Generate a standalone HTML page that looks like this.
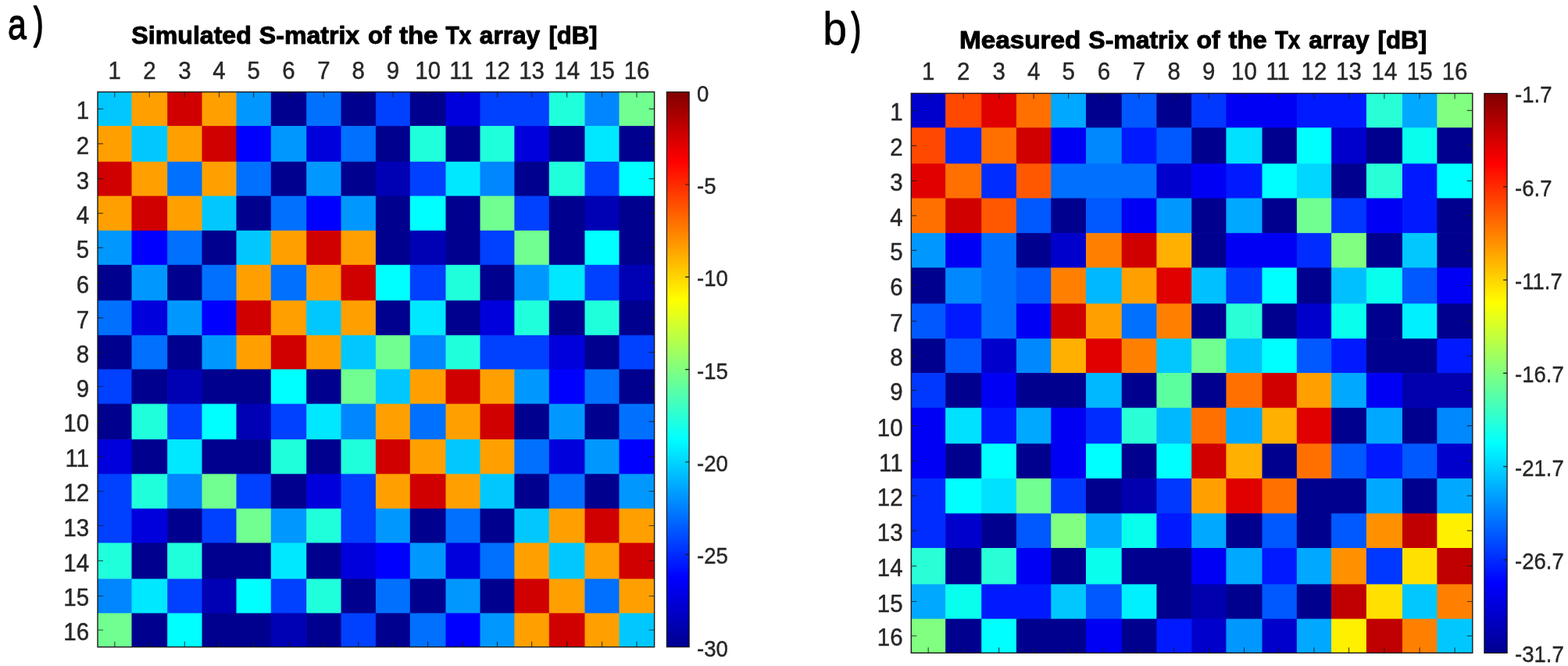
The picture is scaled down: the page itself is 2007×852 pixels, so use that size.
<!DOCTYPE html>
<html lang="en"><head><meta charset="utf-8"><title>S-matrix of the Tx array</title>
<style>html,body{margin:0;padding:0;background:#fff}body{width:2007px;height:852px;overflow:hidden}svg{display:block}</style></head>
<body>
<svg width="2007" height="852" viewBox="0 0 2007 852">
<defs><linearGradient id="jet" x1="0" y1="1" x2="0" y2="0">
<stop offset="0" stop-color="#00008F"/><stop offset="0.125" stop-color="#0000FF"/>
<stop offset="0.375" stop-color="#00FFFF"/><stop offset="0.5" stop-color="#80FF80"/><stop offset="0.625" stop-color="#FFFF00"/>
<stop offset="0.875" stop-color="#FF0000"/><stop offset="1" stop-color="#800000"/></linearGradient></defs>
<rect width="2007" height="852" fill="#fff"/>
<g>
<rect x="125" y="117.6" width="44.2" height="44.2" fill="#00C8FF"/>
<rect x="168.5" y="117.6" width="46.4" height="44.2" fill="#FFA000"/>
<rect x="214.2" y="117.6" width="45.0" height="44.2" fill="#D00000"/>
<rect x="258.5" y="117.6" width="44.7" height="44.2" fill="#FFA000"/>
<rect x="302.5" y="117.6" width="45.0" height="44.2" fill="#0098FF"/>
<rect x="346.8" y="117.6" width="46.1" height="44.2" fill="#00008F"/>
<rect x="392.2" y="117.6" width="45.0" height="44.2" fill="#0070FF"/>
<rect x="436.5" y="117.6" width="45.1" height="44.2" fill="#00008F"/>
<rect x="480.9" y="117.6" width="44.6" height="44.2" fill="#0040FF"/>
<rect x="524.8" y="117.6" width="46.4" height="44.2" fill="#00008F"/>
<rect x="570.5" y="117.6" width="44.7" height="44.2" fill="#0000DC"/>
<rect x="614.5" y="117.6" width="89.0" height="44.2" fill="#0040FF"/>
<rect x="702.8" y="117.6" width="46.4" height="44.2" fill="#20FFDC"/>
<rect x="748.5" y="117.6" width="44.7" height="44.2" fill="#0086FF"/>
<rect x="792.5" y="117.6" width="45.1" height="44.2" fill="#70FF90"/>
<rect x="125" y="161.1" width="44.2" height="46.4" fill="#FFA000"/>
<rect x="168.5" y="161.1" width="46.4" height="46.4" fill="#00C8FF"/>
<rect x="214.2" y="161.1" width="45.0" height="46.4" fill="#FFA000"/>
<rect x="258.5" y="161.1" width="44.7" height="46.4" fill="#D00000"/>
<rect x="302.5" y="161.1" width="45.0" height="46.4" fill="#0000FF"/>
<rect x="346.8" y="161.1" width="46.1" height="46.4" fill="#0098FF"/>
<rect x="392.2" y="161.1" width="45.0" height="46.4" fill="#0000DC"/>
<rect x="436.5" y="161.1" width="45.1" height="46.4" fill="#0070FF"/>
<rect x="480.9" y="161.1" width="44.6" height="46.4" fill="#00008F"/>
<rect x="524.8" y="161.1" width="46.4" height="46.4" fill="#20FFDC"/>
<rect x="570.5" y="161.1" width="44.7" height="46.4" fill="#00008F"/>
<rect x="614.5" y="161.1" width="44.6" height="46.4" fill="#20FFDC"/>
<rect x="658.4" y="161.1" width="45.1" height="46.4" fill="#0000DC"/>
<rect x="702.8" y="161.1" width="46.4" height="46.4" fill="#00008F"/>
<rect x="748.5" y="161.1" width="44.7" height="46.4" fill="#00E8FF"/>
<rect x="792.5" y="161.1" width="45.1" height="46.4" fill="#00008F"/>
<rect x="125" y="206.8" width="44.2" height="44.55" fill="#D00000"/>
<rect x="168.5" y="206.8" width="46.4" height="44.55" fill="#FFA000"/>
<rect x="214.2" y="206.8" width="45.0" height="44.55" fill="#0070FF"/>
<rect x="258.5" y="206.8" width="44.7" height="44.55" fill="#FFA000"/>
<rect x="302.5" y="206.8" width="45.0" height="44.55" fill="#0070FF"/>
<rect x="346.8" y="206.8" width="46.1" height="44.55" fill="#00008F"/>
<rect x="392.2" y="206.8" width="45.0" height="44.55" fill="#0098FF"/>
<rect x="436.5" y="206.8" width="45.1" height="44.55" fill="#00008F"/>
<rect x="480.9" y="206.8" width="44.6" height="44.55" fill="#0000B4"/>
<rect x="524.8" y="206.8" width="46.4" height="44.55" fill="#0040FF"/>
<rect x="570.5" y="206.8" width="44.7" height="44.55" fill="#00E8FF"/>
<rect x="614.5" y="206.8" width="44.6" height="44.55" fill="#0086FF"/>
<rect x="658.4" y="206.8" width="45.1" height="44.55" fill="#00008F"/>
<rect x="702.8" y="206.8" width="46.4" height="44.55" fill="#20FFDC"/>
<rect x="748.5" y="206.8" width="44.7" height="44.55" fill="#0040FF"/>
<rect x="792.5" y="206.8" width="45.1" height="44.55" fill="#00FFFF"/>
<rect x="125" y="250.65" width="44.2" height="44.95" fill="#FFA000"/>
<rect x="168.5" y="250.65" width="46.4" height="44.95" fill="#D00000"/>
<rect x="214.2" y="250.65" width="45.0" height="44.95" fill="#FFA000"/>
<rect x="258.5" y="250.65" width="44.7" height="44.95" fill="#00C8FF"/>
<rect x="302.5" y="250.65" width="45.0" height="44.95" fill="#00008F"/>
<rect x="346.8" y="250.65" width="46.1" height="44.95" fill="#0070FF"/>
<rect x="392.2" y="250.65" width="45.0" height="44.95" fill="#0000FF"/>
<rect x="436.5" y="250.65" width="45.1" height="44.95" fill="#0098FF"/>
<rect x="480.9" y="250.65" width="44.6" height="44.95" fill="#00008F"/>
<rect x="524.8" y="250.65" width="46.4" height="44.95" fill="#00FFFF"/>
<rect x="570.5" y="250.65" width="44.7" height="44.95" fill="#00008F"/>
<rect x="614.5" y="250.65" width="44.6" height="44.95" fill="#70FF90"/>
<rect x="658.4" y="250.65" width="45.1" height="44.95" fill="#0040FF"/>
<rect x="702.8" y="250.65" width="46.4" height="44.95" fill="#00008F"/>
<rect x="748.5" y="250.65" width="44.7" height="44.95" fill="#0000B4"/>
<rect x="792.5" y="250.65" width="45.1" height="44.95" fill="#00008F"/>
<rect x="125" y="294.9" width="44.2" height="44.6" fill="#0098FF"/>
<rect x="168.5" y="294.9" width="46.4" height="44.6" fill="#0000FF"/>
<rect x="214.2" y="294.9" width="45.0" height="44.6" fill="#0070FF"/>
<rect x="258.5" y="294.9" width="44.7" height="44.6" fill="#00008F"/>
<rect x="302.5" y="294.9" width="45.0" height="44.6" fill="#00C8FF"/>
<rect x="346.8" y="294.9" width="46.1" height="44.6" fill="#FFA000"/>
<rect x="392.2" y="294.9" width="45.0" height="44.6" fill="#D00000"/>
<rect x="436.5" y="294.9" width="45.1" height="44.6" fill="#FFA000"/>
<rect x="480.9" y="294.9" width="44.6" height="44.6" fill="#00008F"/>
<rect x="524.8" y="294.9" width="46.4" height="44.6" fill="#0000B4"/>
<rect x="570.5" y="294.9" width="44.7" height="44.6" fill="#00008F"/>
<rect x="614.5" y="294.9" width="44.6" height="44.6" fill="#0040FF"/>
<rect x="658.4" y="294.9" width="45.1" height="44.6" fill="#70FF90"/>
<rect x="702.8" y="294.9" width="46.4" height="44.6" fill="#00008F"/>
<rect x="748.5" y="294.9" width="44.7" height="44.6" fill="#00FFFF"/>
<rect x="792.5" y="294.9" width="45.1" height="44.6" fill="#00008F"/>
<rect x="125" y="338.8" width="44.2" height="46.3" fill="#00008F"/>
<rect x="168.5" y="338.8" width="46.4" height="46.3" fill="#0098FF"/>
<rect x="214.2" y="338.8" width="45.0" height="46.3" fill="#00008F"/>
<rect x="258.5" y="338.8" width="44.7" height="46.3" fill="#0070FF"/>
<rect x="302.5" y="338.8" width="45.0" height="46.3" fill="#FFA000"/>
<rect x="346.8" y="338.8" width="46.1" height="46.3" fill="#0070FF"/>
<rect x="392.2" y="338.8" width="45.0" height="46.3" fill="#FFA000"/>
<rect x="436.5" y="338.8" width="45.1" height="46.3" fill="#D00000"/>
<rect x="480.9" y="338.8" width="44.6" height="46.3" fill="#00FFFF"/>
<rect x="524.8" y="338.8" width="46.4" height="46.3" fill="#0040FF"/>
<rect x="570.5" y="338.8" width="44.7" height="46.3" fill="#20FFDC"/>
<rect x="614.5" y="338.8" width="44.6" height="46.3" fill="#00008F"/>
<rect x="658.4" y="338.8" width="45.1" height="46.3" fill="#0098FF"/>
<rect x="702.8" y="338.8" width="46.4" height="46.3" fill="#00E8FF"/>
<rect x="748.5" y="338.8" width="44.7" height="46.3" fill="#0040FF"/>
<rect x="792.5" y="338.8" width="45.1" height="46.3" fill="#0000B4"/>
<rect x="125" y="384.4" width="44.2" height="45.1" fill="#0070FF"/>
<rect x="168.5" y="384.4" width="46.4" height="45.1" fill="#0000DC"/>
<rect x="214.2" y="384.4" width="45.0" height="45.1" fill="#0098FF"/>
<rect x="258.5" y="384.4" width="44.7" height="45.1" fill="#0000FF"/>
<rect x="302.5" y="384.4" width="45.0" height="45.1" fill="#D00000"/>
<rect x="346.8" y="384.4" width="46.1" height="45.1" fill="#FFA000"/>
<rect x="392.2" y="384.4" width="45.0" height="45.1" fill="#00C8FF"/>
<rect x="436.5" y="384.4" width="45.1" height="45.1" fill="#FFA000"/>
<rect x="480.9" y="384.4" width="44.6" height="45.1" fill="#00008F"/>
<rect x="524.8" y="384.4" width="46.4" height="45.1" fill="#00E8FF"/>
<rect x="570.5" y="384.4" width="44.7" height="45.1" fill="#00008F"/>
<rect x="614.5" y="384.4" width="44.6" height="45.1" fill="#0000DC"/>
<rect x="658.4" y="384.4" width="45.1" height="45.1" fill="#20FFDC"/>
<rect x="702.8" y="384.4" width="46.4" height="45.1" fill="#00008F"/>
<rect x="748.5" y="384.4" width="44.7" height="45.1" fill="#20FFDC"/>
<rect x="792.5" y="384.4" width="45.1" height="45.1" fill="#00008F"/>
<rect x="125" y="428.8" width="44.2" height="44.3" fill="#00008F"/>
<rect x="168.5" y="428.8" width="46.4" height="44.3" fill="#0070FF"/>
<rect x="214.2" y="428.8" width="45.0" height="44.3" fill="#00008F"/>
<rect x="258.5" y="428.8" width="44.7" height="44.3" fill="#0098FF"/>
<rect x="302.5" y="428.8" width="45.0" height="44.3" fill="#FFA000"/>
<rect x="346.8" y="428.8" width="46.1" height="44.3" fill="#D00000"/>
<rect x="392.2" y="428.8" width="45.0" height="44.3" fill="#FFA000"/>
<rect x="436.5" y="428.8" width="45.1" height="44.3" fill="#00C8FF"/>
<rect x="480.9" y="428.8" width="44.6" height="44.3" fill="#70FF90"/>
<rect x="524.8" y="428.8" width="46.4" height="44.3" fill="#0086FF"/>
<rect x="570.5" y="428.8" width="44.7" height="44.3" fill="#20FFDC"/>
<rect x="614.5" y="428.8" width="89.0" height="44.3" fill="#0040FF"/>
<rect x="702.8" y="428.8" width="46.4" height="44.3" fill="#0000DC"/>
<rect x="748.5" y="428.8" width="44.7" height="44.3" fill="#00008F"/>
<rect x="792.5" y="428.8" width="45.1" height="44.3" fill="#0040FF"/>
<rect x="125" y="472.4" width="44.2" height="44.9" fill="#0040FF"/>
<rect x="168.5" y="472.4" width="46.4" height="44.9" fill="#00008F"/>
<rect x="214.2" y="472.4" width="45.0" height="44.9" fill="#0000B4"/>
<rect x="258.5" y="472.4" width="89.0" height="44.9" fill="#00008F"/>
<rect x="346.8" y="472.4" width="46.1" height="44.9" fill="#00FFFF"/>
<rect x="392.2" y="472.4" width="45.0" height="44.9" fill="#00008F"/>
<rect x="436.5" y="472.4" width="45.1" height="44.9" fill="#70FF90"/>
<rect x="480.9" y="472.4" width="44.6" height="44.9" fill="#00C8FF"/>
<rect x="524.8" y="472.4" width="46.4" height="44.9" fill="#FFA000"/>
<rect x="570.5" y="472.4" width="44.7" height="44.9" fill="#D00000"/>
<rect x="614.5" y="472.4" width="44.6" height="44.9" fill="#FFA000"/>
<rect x="658.4" y="472.4" width="45.1" height="44.9" fill="#0098FF"/>
<rect x="702.8" y="472.4" width="46.4" height="44.9" fill="#0000FF"/>
<rect x="748.5" y="472.4" width="44.7" height="44.9" fill="#0070FF"/>
<rect x="792.5" y="472.4" width="45.1" height="44.9" fill="#00008F"/>
<rect x="125" y="516.6" width="44.2" height="46.2" fill="#00008F"/>
<rect x="168.5" y="516.6" width="46.4" height="46.2" fill="#20FFDC"/>
<rect x="214.2" y="516.6" width="45.0" height="46.2" fill="#0040FF"/>
<rect x="258.5" y="516.6" width="44.7" height="46.2" fill="#00FFFF"/>
<rect x="302.5" y="516.6" width="45.0" height="46.2" fill="#0000B4"/>
<rect x="346.8" y="516.6" width="46.1" height="46.2" fill="#0040FF"/>
<rect x="392.2" y="516.6" width="45.0" height="46.2" fill="#00E8FF"/>
<rect x="436.5" y="516.6" width="45.1" height="46.2" fill="#0086FF"/>
<rect x="480.9" y="516.6" width="44.6" height="46.2" fill="#FFA000"/>
<rect x="524.8" y="516.6" width="46.4" height="46.2" fill="#0070FF"/>
<rect x="570.5" y="516.6" width="44.7" height="46.2" fill="#FFA000"/>
<rect x="614.5" y="516.6" width="44.6" height="46.2" fill="#D00000"/>
<rect x="658.4" y="516.6" width="45.1" height="46.2" fill="#00008F"/>
<rect x="702.8" y="516.6" width="46.4" height="46.2" fill="#0098FF"/>
<rect x="748.5" y="516.6" width="44.7" height="46.2" fill="#00008F"/>
<rect x="792.5" y="516.6" width="45.1" height="46.2" fill="#0070FF"/>
<rect x="125" y="562.1" width="44.2" height="44.9" fill="#0000DC"/>
<rect x="168.5" y="562.1" width="46.4" height="44.9" fill="#00008F"/>
<rect x="214.2" y="562.1" width="45.0" height="44.9" fill="#00E8FF"/>
<rect x="258.5" y="562.1" width="89.0" height="44.9" fill="#00008F"/>
<rect x="346.8" y="562.1" width="46.1" height="44.9" fill="#20FFDC"/>
<rect x="392.2" y="562.1" width="45.0" height="44.9" fill="#00008F"/>
<rect x="436.5" y="562.1" width="45.1" height="44.9" fill="#20FFDC"/>
<rect x="480.9" y="562.1" width="44.6" height="44.9" fill="#D00000"/>
<rect x="524.8" y="562.1" width="46.4" height="44.9" fill="#FFA000"/>
<rect x="570.5" y="562.1" width="44.7" height="44.9" fill="#00C8FF"/>
<rect x="614.5" y="562.1" width="44.6" height="44.9" fill="#FFA000"/>
<rect x="658.4" y="562.1" width="45.1" height="44.9" fill="#0070FF"/>
<rect x="702.8" y="562.1" width="46.4" height="44.9" fill="#0000DC"/>
<rect x="748.5" y="562.1" width="44.7" height="44.9" fill="#0098FF"/>
<rect x="792.5" y="562.1" width="45.1" height="44.9" fill="#0000FF"/>
<rect x="125" y="606.3" width="44.2" height="45.0" fill="#0040FF"/>
<rect x="168.5" y="606.3" width="46.4" height="45.0" fill="#20FFDC"/>
<rect x="214.2" y="606.3" width="45.0" height="45.0" fill="#0086FF"/>
<rect x="258.5" y="606.3" width="44.7" height="45.0" fill="#70FF90"/>
<rect x="302.5" y="606.3" width="45.0" height="45.0" fill="#0040FF"/>
<rect x="346.8" y="606.3" width="46.1" height="45.0" fill="#00008F"/>
<rect x="392.2" y="606.3" width="45.0" height="45.0" fill="#0000DC"/>
<rect x="436.5" y="606.3" width="45.1" height="45.0" fill="#0040FF"/>
<rect x="480.9" y="606.3" width="44.6" height="45.0" fill="#FFA000"/>
<rect x="524.8" y="606.3" width="46.4" height="45.0" fill="#D00000"/>
<rect x="570.5" y="606.3" width="44.7" height="45.0" fill="#FFA000"/>
<rect x="614.5" y="606.3" width="44.6" height="45.0" fill="#00C8FF"/>
<rect x="658.4" y="606.3" width="45.1" height="45.0" fill="#00008F"/>
<rect x="702.8" y="606.3" width="46.4" height="45.0" fill="#0070FF"/>
<rect x="748.5" y="606.3" width="44.7" height="45.0" fill="#00008F"/>
<rect x="792.5" y="606.3" width="45.1" height="45.0" fill="#0098FF"/>
<rect x="125" y="650.6" width="44.2" height="44.6" fill="#0040FF"/>
<rect x="168.5" y="650.6" width="46.4" height="44.6" fill="#0000DC"/>
<rect x="214.2" y="650.6" width="45.0" height="44.6" fill="#00008F"/>
<rect x="258.5" y="650.6" width="44.7" height="44.6" fill="#0040FF"/>
<rect x="302.5" y="650.6" width="45.0" height="44.6" fill="#70FF90"/>
<rect x="346.8" y="650.6" width="46.1" height="44.6" fill="#0098FF"/>
<rect x="392.2" y="650.6" width="45.0" height="44.6" fill="#20FFDC"/>
<rect x="436.5" y="650.6" width="45.1" height="44.6" fill="#0040FF"/>
<rect x="480.9" y="650.6" width="44.6" height="44.6" fill="#0098FF"/>
<rect x="524.8" y="650.6" width="46.4" height="44.6" fill="#00008F"/>
<rect x="570.5" y="650.6" width="44.7" height="44.6" fill="#0070FF"/>
<rect x="614.5" y="650.6" width="44.6" height="44.6" fill="#00008F"/>
<rect x="658.4" y="650.6" width="45.1" height="44.6" fill="#00C8FF"/>
<rect x="702.8" y="650.6" width="46.4" height="44.6" fill="#FFA000"/>
<rect x="748.5" y="650.6" width="44.7" height="44.6" fill="#D00000"/>
<rect x="792.5" y="650.6" width="45.1" height="44.6" fill="#FFA000"/>
<rect x="125" y="694.5" width="44.2" height="46.7" fill="#20FFDC"/>
<rect x="168.5" y="694.5" width="46.4" height="46.7" fill="#00008F"/>
<rect x="214.2" y="694.5" width="45.0" height="46.7" fill="#20FFDC"/>
<rect x="258.5" y="694.5" width="89.0" height="46.7" fill="#00008F"/>
<rect x="346.8" y="694.5" width="46.1" height="46.7" fill="#00E8FF"/>
<rect x="392.2" y="694.5" width="45.0" height="46.7" fill="#00008F"/>
<rect x="436.5" y="694.5" width="45.1" height="46.7" fill="#0000DC"/>
<rect x="480.9" y="694.5" width="44.6" height="46.7" fill="#0000FF"/>
<rect x="524.8" y="694.5" width="46.4" height="46.7" fill="#0098FF"/>
<rect x="570.5" y="694.5" width="44.7" height="46.7" fill="#0000DC"/>
<rect x="614.5" y="694.5" width="44.6" height="46.7" fill="#0070FF"/>
<rect x="658.4" y="694.5" width="45.1" height="46.7" fill="#FFA000"/>
<rect x="702.8" y="694.5" width="46.4" height="46.7" fill="#00C8FF"/>
<rect x="748.5" y="694.5" width="44.7" height="46.7" fill="#FFA000"/>
<rect x="792.5" y="694.5" width="45.1" height="46.7" fill="#D00000"/>
<rect x="125" y="740.5" width="44.2" height="44.6" fill="#0086FF"/>
<rect x="168.5" y="740.5" width="46.4" height="44.6" fill="#00E8FF"/>
<rect x="214.2" y="740.5" width="45.0" height="44.6" fill="#0040FF"/>
<rect x="258.5" y="740.5" width="44.7" height="44.6" fill="#0000B4"/>
<rect x="302.5" y="740.5" width="45.0" height="44.6" fill="#00FFFF"/>
<rect x="346.8" y="740.5" width="46.1" height="44.6" fill="#0040FF"/>
<rect x="392.2" y="740.5" width="45.0" height="44.6" fill="#20FFDC"/>
<rect x="436.5" y="740.5" width="45.1" height="44.6" fill="#00008F"/>
<rect x="480.9" y="740.5" width="44.6" height="44.6" fill="#0070FF"/>
<rect x="524.8" y="740.5" width="46.4" height="44.6" fill="#00008F"/>
<rect x="570.5" y="740.5" width="44.7" height="44.6" fill="#0098FF"/>
<rect x="614.5" y="740.5" width="44.6" height="44.6" fill="#00008F"/>
<rect x="658.4" y="740.5" width="45.1" height="44.6" fill="#D00000"/>
<rect x="702.8" y="740.5" width="46.4" height="44.6" fill="#FFA000"/>
<rect x="748.5" y="740.5" width="44.7" height="44.6" fill="#0070FF"/>
<rect x="792.5" y="740.5" width="45.1" height="44.6" fill="#FFA000"/>
<rect x="125" y="784.4" width="44.2" height="43.3" fill="#70FF90"/>
<rect x="168.5" y="784.4" width="46.4" height="43.3" fill="#00008F"/>
<rect x="214.2" y="784.4" width="45.0" height="43.3" fill="#00FFFF"/>
<rect x="258.5" y="784.4" width="89.0" height="43.3" fill="#00008F"/>
<rect x="346.8" y="784.4" width="46.1" height="43.3" fill="#0000B4"/>
<rect x="392.2" y="784.4" width="45.0" height="43.3" fill="#00008F"/>
<rect x="436.5" y="784.4" width="45.1" height="43.3" fill="#0040FF"/>
<rect x="480.9" y="784.4" width="44.6" height="43.3" fill="#00008F"/>
<rect x="524.8" y="784.4" width="46.4" height="43.3" fill="#0070FF"/>
<rect x="570.5" y="784.4" width="44.7" height="43.3" fill="#0000FF"/>
<rect x="614.5" y="784.4" width="44.6" height="43.3" fill="#0098FF"/>
<rect x="658.4" y="784.4" width="45.1" height="43.3" fill="#FFA000"/>
<rect x="702.8" y="784.4" width="46.4" height="43.3" fill="#D00000"/>
<rect x="748.5" y="784.4" width="44.7" height="43.3" fill="#FFA000"/>
<rect x="792.5" y="784.4" width="45.1" height="43.3" fill="#00C8FF"/>
</g>
<path d="M146.8 117.6v7M146.8 827.7v-7M125 139.3h7M837.6 139.3h-7M191.3 117.6v7M191.3 827.7v-7M125 183.9h7M837.6 183.9h-7M236.3 117.6v7M236.3 827.7v-7M125 228.7h7M837.6 228.7h-7M280.5 117.6v7M280.5 827.7v-7M125 272.8h7M837.6 272.8h-7M324.6 117.6v7M324.6 827.7v-7M125 316.9h7M837.6 316.9h-7M369.5 117.6v7M369.5 827.7v-7M125 361.6h7M837.6 361.6h-7M414.4 117.6v7M414.4 827.7v-7M125 406.6h7M837.6 406.6h-7M458.7 117.6v7M458.7 827.7v-7M125 450.6h7M837.6 450.6h-7M502.8 117.6v7M502.8 827.7v-7M125 494.5h7M837.6 494.5h-7M547.6 117.6v7M547.6 827.7v-7M125 539.4h7M837.6 539.4h-7M592.5 117.6v7M592.5 827.7v-7M125 584.2h7M837.6 584.2h-7M636.5 117.6v7M636.5 827.7v-7M125 628.5h7M837.6 628.5h-7M680.6 117.6v7M680.6 827.7v-7M125 672.5h7M837.6 672.5h-7M725.6 117.6v7M725.6 827.7v-7M125 717.5h7M837.6 717.5h-7M770.5 117.6v7M770.5 827.7v-7M125 762.5h7M837.6 762.5h-7M815.0 117.6v7M815.0 827.7v-7M125 806.0h7M837.6 806.0h-7" stroke="#1a1a1a" stroke-width="1.2" fill="none" opacity="0.75"/>
<rect x="125" y="117.6" width="712.6" height="710.1" fill="none" stroke="#1a1a1a" stroke-width="1.4"/>
<g font-family="'Liberation Sans', Arial, sans-serif" fill="#262626" stroke="#262626" stroke-width="0.45">
<text transform="translate(146.75 100.6) scale(0.95 1)" text-anchor="middle" font-size="31.0">1</text>
<text transform="translate(191.35 100.6) scale(0.95 1)" text-anchor="middle" font-size="31.0">2</text>
<text transform="translate(236.35 100.6) scale(0.95 1)" text-anchor="middle" font-size="31.0">3</text>
<text transform="translate(280.5 100.6) scale(0.95 1)" text-anchor="middle" font-size="31.0">4</text>
<text transform="translate(324.65 100.6) scale(0.95 1)" text-anchor="middle" font-size="31.0">5</text>
<text transform="translate(369.5 100.6) scale(0.95 1)" text-anchor="middle" font-size="31.0">6</text>
<text transform="translate(414.35 100.6) scale(0.95 1)" text-anchor="middle" font-size="31.0">7</text>
<text transform="translate(458.7 100.6) scale(0.95 1)" text-anchor="middle" font-size="31.0">8</text>
<text transform="translate(502.85 100.6) scale(0.95 1)" text-anchor="middle" font-size="31.0">9</text>
<text transform="translate(547.65 100.6) scale(0.95 1)" text-anchor="middle" font-size="31.0">10</text>
<text transform="translate(590.5 100.6) scale(0.95 1)" text-anchor="middle" font-size="31.0">11</text>
<text transform="translate(636.45 100.6) scale(0.95 1)" text-anchor="middle" font-size="31.0">12</text>
<text transform="translate(680.6 100.6) scale(0.95 1)" text-anchor="middle" font-size="31.0">13</text>
<text transform="translate(725.65 100.6) scale(0.95 1)" text-anchor="middle" font-size="31.0">14</text>
<text transform="translate(770.5 100.6) scale(0.95 1)" text-anchor="middle" font-size="31.0">15</text>
<text transform="translate(815.05 100.6) scale(0.95 1)" text-anchor="middle" font-size="31.0">16</text>
<text transform="translate(114.1 152.35) scale(0.95 1)" text-anchor="end" font-size="31.0">1</text>
<text transform="translate(114.1 196.95) scale(0.95 1)" text-anchor="end" font-size="31.0">2</text>
<text transform="translate(114.1 241.73) scale(0.95 1)" text-anchor="end" font-size="31.0">3</text>
<text transform="translate(114.1 285.77) scale(0.95 1)" text-anchor="end" font-size="31.0">4</text>
<text transform="translate(114.1 329.85) scale(0.95 1)" text-anchor="end" font-size="31.0">5</text>
<text transform="translate(114.1 374.6) scale(0.95 1)" text-anchor="end" font-size="31.0">6</text>
<text transform="translate(114.1 419.6) scale(0.95 1)" text-anchor="end" font-size="31.0">7</text>
<text transform="translate(114.1 463.6) scale(0.95 1)" text-anchor="end" font-size="31.0">8</text>
<text transform="translate(114.1 507.5) scale(0.95 1)" text-anchor="end" font-size="31.0">9</text>
<text transform="translate(114.1 552.35) scale(0.95 1)" text-anchor="end" font-size="31.0">10</text>
<text transform="translate(114.1 597.2) scale(0.95 1)" text-anchor="end" font-size="31.0">11</text>
<text transform="translate(114.1 641.45) scale(0.95 1)" text-anchor="end" font-size="31.0">12</text>
<text transform="translate(114.1 685.55) scale(0.95 1)" text-anchor="end" font-size="31.0">13</text>
<text transform="translate(114.1 730.5) scale(0.95 1)" text-anchor="end" font-size="31.0">14</text>
<text transform="translate(114.1 775.45) scale(0.95 1)" text-anchor="end" font-size="31.0">15</text>
<text transform="translate(114.1 819.05) scale(0.95 1)" text-anchor="end" font-size="31.0">16</text>
</g>
<rect x="853.4" y="117.7" width="28.7" height="710.0" fill="url(#jet)" stroke="#111" stroke-width="1.2"/>
<path d="M882.1 236.0h-5M882.1 354.4h-5M882.1 472.7h-5M882.1 591.0h-5M882.1 709.4h-5" stroke="#1a1a1a" stroke-width="1.2" fill="none"/>
<g font-family="'Liberation Sans', Arial, sans-serif" fill="#262626" stroke="#262626" stroke-width="0.4">
<text transform="translate(892.0 129.6) scale(0.95 1)" text-anchor="start" font-size="29.0">0</text>
<text transform="translate(892.0 247.93) scale(0.95 1)" text-anchor="start" font-size="29.0">-5</text>
<text transform="translate(892.0 366.27) scale(0.95 1)" text-anchor="start" font-size="29.0">-10</text>
<text transform="translate(892.0 484.6) scale(0.95 1)" text-anchor="start" font-size="29.0">-15</text>
<text transform="translate(892.0 602.93) scale(0.95 1)" text-anchor="start" font-size="29.0">-20</text>
<text transform="translate(892.0 721.27) scale(0.95 1)" text-anchor="start" font-size="29.0">-25</text>
<text transform="translate(892.0 839.6) scale(0.95 1)" text-anchor="start" font-size="29.0">-30</text>
</g>
<g>
<rect x="1166.3" y="119.4" width="44.56" height="44.56" fill="#0000CD"/>
<rect x="1210.16" y="119.4" width="46.78" height="44.56" fill="#FF4800"/>
<rect x="1256.24" y="119.4" width="45.37" height="44.56" fill="#E00000"/>
<rect x="1300.91" y="119.4" width="45.06" height="44.56" fill="#FF7000"/>
<rect x="1345.27" y="119.4" width="45.37" height="44.56" fill="#00A8FF"/>
<rect x="1389.94" y="119.4" width="46.47" height="44.56" fill="#00008F"/>
<rect x="1435.71" y="119.4" width="45.37" height="44.56" fill="#0058FF"/>
<rect x="1480.38" y="119.4" width="45.47" height="44.56" fill="#00008F"/>
<rect x="1525.15" y="119.4" width="44.96" height="44.56" fill="#0038FF"/>
<rect x="1569.41" y="119.4" width="91.14" height="44.56" fill="#0000F5"/>
<rect x="1659.85" y="119.4" width="89.73" height="44.56" fill="#001AFF"/>
<rect x="1748.88" y="119.4" width="46.78" height="44.56" fill="#28FFD7"/>
<rect x="1794.96" y="119.4" width="45.07" height="44.56" fill="#00A8FF"/>
<rect x="1839.33" y="119.4" width="45.47" height="44.56" fill="#80FF80"/>
<rect x="1166.3" y="163.26" width="44.56" height="46.77" fill="#FF4800"/>
<rect x="1210.16" y="163.26" width="46.78" height="46.77" fill="#002CFF"/>
<rect x="1256.24" y="163.26" width="45.37" height="46.77" fill="#FF7000"/>
<rect x="1300.91" y="163.26" width="45.06" height="46.77" fill="#D00000"/>
<rect x="1345.27" y="163.26" width="45.37" height="46.77" fill="#0000F5"/>
<rect x="1389.94" y="163.26" width="46.47" height="46.77" fill="#0088FF"/>
<rect x="1435.71" y="163.26" width="45.37" height="46.77" fill="#001AFF"/>
<rect x="1480.38" y="163.26" width="45.47" height="46.77" fill="#0058FF"/>
<rect x="1525.15" y="163.26" width="44.96" height="46.77" fill="#00008F"/>
<rect x="1569.41" y="163.26" width="46.78" height="46.77" fill="#00E0FF"/>
<rect x="1615.49" y="163.26" width="45.06" height="46.77" fill="#00008F"/>
<rect x="1659.85" y="163.26" width="44.97" height="46.77" fill="#00FFFF"/>
<rect x="1704.12" y="163.26" width="45.46" height="46.77" fill="#0000CD"/>
<rect x="1748.88" y="163.26" width="46.78" height="46.77" fill="#00008F"/>
<rect x="1794.96" y="163.26" width="45.07" height="46.77" fill="#08FFEE"/>
<rect x="1839.33" y="163.26" width="45.47" height="46.77" fill="#00008F"/>
<rect x="1166.3" y="209.33" width="44.56" height="44.91" fill="#E00000"/>
<rect x="1210.16" y="209.33" width="46.78" height="44.91" fill="#FF7000"/>
<rect x="1256.24" y="209.33" width="45.37" height="44.91" fill="#002CFF"/>
<rect x="1300.91" y="209.33" width="45.06" height="44.91" fill="#FF5800"/>
<rect x="1345.27" y="209.33" width="135.81" height="44.91" fill="#0070FF"/>
<rect x="1480.38" y="209.33" width="45.47" height="44.91" fill="#0000CD"/>
<rect x="1525.15" y="209.33" width="44.96" height="44.91" fill="#0000F5"/>
<rect x="1569.41" y="209.33" width="46.78" height="44.91" fill="#001AFF"/>
<rect x="1615.49" y="209.33" width="45.06" height="44.91" fill="#00FFFF"/>
<rect x="1659.85" y="209.33" width="44.97" height="44.91" fill="#00D6FF"/>
<rect x="1704.12" y="209.33" width="45.46" height="44.91" fill="#00008F"/>
<rect x="1748.88" y="209.33" width="46.78" height="44.91" fill="#28FFD7"/>
<rect x="1794.96" y="209.33" width="45.07" height="44.91" fill="#001AFF"/>
<rect x="1839.33" y="209.33" width="45.47" height="44.91" fill="#00FFFF"/>
<rect x="1166.3" y="253.54" width="44.56" height="45.31" fill="#FF7000"/>
<rect x="1210.16" y="253.54" width="46.78" height="45.31" fill="#D00000"/>
<rect x="1256.24" y="253.54" width="45.37" height="45.31" fill="#FF5800"/>
<rect x="1300.91" y="253.54" width="45.06" height="45.31" fill="#0058FF"/>
<rect x="1345.27" y="253.54" width="45.37" height="45.31" fill="#00008F"/>
<rect x="1389.94" y="253.54" width="46.47" height="45.31" fill="#0058FF"/>
<rect x="1435.71" y="253.54" width="45.37" height="45.31" fill="#0000F5"/>
<rect x="1480.38" y="253.54" width="45.47" height="45.31" fill="#0098FF"/>
<rect x="1525.15" y="253.54" width="44.96" height="45.31" fill="#00008F"/>
<rect x="1569.41" y="253.54" width="46.78" height="45.31" fill="#00A8FF"/>
<rect x="1615.49" y="253.54" width="45.06" height="45.31" fill="#00008F"/>
<rect x="1659.85" y="253.54" width="44.97" height="45.31" fill="#70FF90"/>
<rect x="1704.12" y="253.54" width="45.46" height="45.31" fill="#0038FF"/>
<rect x="1748.88" y="253.54" width="46.78" height="45.31" fill="#0000F5"/>
<rect x="1794.96" y="253.54" width="45.07" height="45.31" fill="#001AFF"/>
<rect x="1839.33" y="253.54" width="45.47" height="45.31" fill="#00008F"/>
<rect x="1166.3" y="298.15" width="44.56" height="44.96" fill="#0098FF"/>
<rect x="1210.16" y="298.15" width="46.78" height="44.96" fill="#0000F5"/>
<rect x="1256.24" y="298.15" width="45.37" height="44.96" fill="#0070FF"/>
<rect x="1300.91" y="298.15" width="45.06" height="44.96" fill="#00008F"/>
<rect x="1345.27" y="298.15" width="45.37" height="44.96" fill="#0000CD"/>
<rect x="1389.94" y="298.15" width="46.47" height="44.96" fill="#FF8000"/>
<rect x="1435.71" y="298.15" width="45.37" height="44.96" fill="#D00000"/>
<rect x="1480.38" y="298.15" width="45.47" height="44.96" fill="#FFB000"/>
<rect x="1525.15" y="298.15" width="44.96" height="44.96" fill="#00008F"/>
<rect x="1569.41" y="298.15" width="91.14" height="44.96" fill="#0000F5"/>
<rect x="1659.85" y="298.15" width="44.97" height="44.96" fill="#002CFF"/>
<rect x="1704.12" y="298.15" width="45.46" height="44.96" fill="#80FF80"/>
<rect x="1748.88" y="298.15" width="46.78" height="44.96" fill="#00008F"/>
<rect x="1794.96" y="298.15" width="45.07" height="44.96" fill="#00C8FF"/>
<rect x="1839.33" y="298.15" width="45.47" height="44.96" fill="#00008F"/>
<rect x="1166.3" y="342.41" width="44.56" height="46.67" fill="#00008F"/>
<rect x="1210.16" y="342.41" width="46.78" height="46.67" fill="#0088FF"/>
<rect x="1256.24" y="342.41" width="45.37" height="46.67" fill="#0070FF"/>
<rect x="1300.91" y="342.41" width="45.06" height="46.67" fill="#0058FF"/>
<rect x="1345.27" y="342.41" width="45.37" height="46.67" fill="#FF8000"/>
<rect x="1389.94" y="342.41" width="46.47" height="46.67" fill="#00B8FF"/>
<rect x="1435.71" y="342.41" width="45.37" height="46.67" fill="#FFA000"/>
<rect x="1480.38" y="342.41" width="45.47" height="46.67" fill="#E00000"/>
<rect x="1525.15" y="342.41" width="44.96" height="46.67" fill="#00C0FF"/>
<rect x="1569.41" y="342.41" width="46.78" height="46.67" fill="#0038FF"/>
<rect x="1615.49" y="342.41" width="45.06" height="46.67" fill="#00FFFF"/>
<rect x="1659.85" y="342.41" width="44.97" height="46.67" fill="#00008F"/>
<rect x="1704.12" y="342.41" width="45.46" height="46.67" fill="#00C0FF"/>
<rect x="1748.88" y="342.41" width="46.78" height="46.67" fill="#08FFEE"/>
<rect x="1794.96" y="342.41" width="45.07" height="46.67" fill="#0058FF"/>
<rect x="1839.33" y="342.41" width="45.47" height="46.67" fill="#0000F5"/>
<rect x="1166.3" y="388.38" width="44.56" height="45.46" fill="#0058FF"/>
<rect x="1210.16" y="388.38" width="46.78" height="45.46" fill="#001AFF"/>
<rect x="1256.24" y="388.38" width="45.37" height="45.46" fill="#0070FF"/>
<rect x="1300.91" y="388.38" width="45.06" height="45.46" fill="#0000F5"/>
<rect x="1345.27" y="388.38" width="45.37" height="45.46" fill="#D00000"/>
<rect x="1389.94" y="388.38" width="46.47" height="45.46" fill="#FFA000"/>
<rect x="1435.71" y="388.38" width="45.37" height="45.46" fill="#0070FF"/>
<rect x="1480.38" y="388.38" width="45.47" height="45.46" fill="#FF8000"/>
<rect x="1525.15" y="388.38" width="44.96" height="45.46" fill="#00008F"/>
<rect x="1569.41" y="388.38" width="46.78" height="45.46" fill="#28FFD7"/>
<rect x="1615.49" y="388.38" width="45.06" height="45.46" fill="#00008F"/>
<rect x="1659.85" y="388.38" width="44.97" height="45.46" fill="#0000CD"/>
<rect x="1704.12" y="388.38" width="45.46" height="45.46" fill="#08FFEE"/>
<rect x="1748.88" y="388.38" width="46.78" height="45.46" fill="#00008F"/>
<rect x="1794.96" y="388.38" width="45.07" height="45.46" fill="#00F0FF"/>
<rect x="1839.33" y="388.38" width="45.47" height="45.46" fill="#00008F"/>
<rect x="1166.3" y="433.14" width="44.56" height="44.66" fill="#00008F"/>
<rect x="1210.16" y="433.14" width="46.78" height="44.66" fill="#0058FF"/>
<rect x="1256.24" y="433.14" width="45.37" height="44.66" fill="#0000CD"/>
<rect x="1300.91" y="433.14" width="45.06" height="44.66" fill="#0088FF"/>
<rect x="1345.27" y="433.14" width="45.37" height="44.66" fill="#FFB000"/>
<rect x="1389.94" y="433.14" width="46.47" height="44.66" fill="#E00000"/>
<rect x="1435.71" y="433.14" width="45.37" height="44.66" fill="#FF8000"/>
<rect x="1480.38" y="433.14" width="45.47" height="44.66" fill="#00C8FF"/>
<rect x="1525.15" y="433.14" width="44.96" height="44.66" fill="#70FF90"/>
<rect x="1569.41" y="433.14" width="46.78" height="44.66" fill="#00C0FF"/>
<rect x="1615.49" y="433.14" width="45.06" height="44.66" fill="#00FFFF"/>
<rect x="1659.85" y="433.14" width="44.97" height="44.66" fill="#0058FF"/>
<rect x="1704.12" y="433.14" width="45.46" height="44.66" fill="#001AFF"/>
<rect x="1748.88" y="433.14" width="91.15" height="44.66" fill="#00008F"/>
<rect x="1839.33" y="433.14" width="45.47" height="44.66" fill="#001AFF"/>
<rect x="1166.3" y="477.1" width="44.56" height="45.26" fill="#0038FF"/>
<rect x="1210.16" y="477.1" width="46.78" height="45.26" fill="#00008F"/>
<rect x="1256.24" y="477.1" width="45.37" height="45.26" fill="#0000F5"/>
<rect x="1300.91" y="477.1" width="89.73" height="45.26" fill="#00008F"/>
<rect x="1389.94" y="477.1" width="46.47" height="45.26" fill="#00B8FF"/>
<rect x="1435.71" y="477.1" width="45.37" height="45.26" fill="#00008F"/>
<rect x="1480.38" y="477.1" width="45.47" height="45.26" fill="#5CFF9E"/>
<rect x="1525.15" y="477.1" width="44.96" height="45.26" fill="#00008F"/>
<rect x="1569.41" y="477.1" width="46.78" height="45.26" fill="#FF7000"/>
<rect x="1615.49" y="477.1" width="45.06" height="45.26" fill="#D00000"/>
<rect x="1659.85" y="477.1" width="44.97" height="45.26" fill="#FFA000"/>
<rect x="1704.12" y="477.1" width="45.46" height="45.26" fill="#00A8FF"/>
<rect x="1748.88" y="477.1" width="46.78" height="45.26" fill="#0000F5"/>
<rect x="1794.96" y="477.1" width="89.84" height="45.26" fill="#0000AF"/>
<rect x="1166.3" y="521.66" width="44.56" height="46.57" fill="#0000F5"/>
<rect x="1210.16" y="521.66" width="46.78" height="46.57" fill="#00E0FF"/>
<rect x="1256.24" y="521.66" width="45.37" height="46.57" fill="#001AFF"/>
<rect x="1300.91" y="521.66" width="45.06" height="46.57" fill="#00A8FF"/>
<rect x="1345.27" y="521.66" width="45.37" height="46.57" fill="#0000F5"/>
<rect x="1389.94" y="521.66" width="46.47" height="46.57" fill="#002CFF"/>
<rect x="1435.71" y="521.66" width="45.37" height="46.57" fill="#28FFD7"/>
<rect x="1480.38" y="521.66" width="45.47" height="46.57" fill="#00B8FF"/>
<rect x="1525.15" y="521.66" width="44.96" height="46.57" fill="#FF7000"/>
<rect x="1569.41" y="521.66" width="46.78" height="46.57" fill="#00A8FF"/>
<rect x="1615.49" y="521.66" width="45.06" height="46.57" fill="#FFB000"/>
<rect x="1659.85" y="521.66" width="44.97" height="46.57" fill="#E00000"/>
<rect x="1704.12" y="521.66" width="45.46" height="46.57" fill="#00008F"/>
<rect x="1748.88" y="521.66" width="46.78" height="46.57" fill="#00A8FF"/>
<rect x="1794.96" y="521.66" width="45.07" height="46.57" fill="#00008F"/>
<rect x="1839.33" y="521.66" width="45.47" height="46.57" fill="#0088FF"/>
<rect x="1166.3" y="567.53" width="44.56" height="45.26" fill="#0000F5"/>
<rect x="1210.16" y="567.53" width="46.78" height="45.26" fill="#00008F"/>
<rect x="1256.24" y="567.53" width="45.37" height="45.26" fill="#00FFFF"/>
<rect x="1300.91" y="567.53" width="45.06" height="45.26" fill="#00008F"/>
<rect x="1345.27" y="567.53" width="45.37" height="45.26" fill="#0000F5"/>
<rect x="1389.94" y="567.53" width="46.47" height="45.26" fill="#00FFFF"/>
<rect x="1435.71" y="567.53" width="45.37" height="45.26" fill="#00008F"/>
<rect x="1480.38" y="567.53" width="45.47" height="45.26" fill="#00FFFF"/>
<rect x="1525.15" y="567.53" width="44.96" height="45.26" fill="#D00000"/>
<rect x="1569.41" y="567.53" width="46.78" height="45.26" fill="#FFB000"/>
<rect x="1615.49" y="567.53" width="45.06" height="45.26" fill="#00008F"/>
<rect x="1659.85" y="567.53" width="44.97" height="45.26" fill="#FF7000"/>
<rect x="1704.12" y="567.53" width="45.46" height="45.26" fill="#0058FF"/>
<rect x="1748.88" y="567.53" width="46.78" height="45.26" fill="#001AFF"/>
<rect x="1794.96" y="567.53" width="45.07" height="45.26" fill="#0058FF"/>
<rect x="1839.33" y="567.53" width="45.47" height="45.26" fill="#0000CD"/>
<rect x="1166.3" y="612.09" width="44.56" height="45.36" fill="#002CFF"/>
<rect x="1210.16" y="612.09" width="46.78" height="45.36" fill="#00FFFF"/>
<rect x="1256.24" y="612.09" width="45.37" height="45.36" fill="#00E0FF"/>
<rect x="1300.91" y="612.09" width="45.06" height="45.36" fill="#70FF90"/>
<rect x="1345.27" y="612.09" width="45.37" height="45.36" fill="#0038FF"/>
<rect x="1389.94" y="612.09" width="46.47" height="45.36" fill="#00008F"/>
<rect x="1435.71" y="612.09" width="45.37" height="45.36" fill="#0000AF"/>
<rect x="1480.38" y="612.09" width="45.47" height="45.36" fill="#0038FF"/>
<rect x="1525.15" y="612.09" width="44.96" height="45.36" fill="#FFA000"/>
<rect x="1569.41" y="612.09" width="46.78" height="45.36" fill="#E00000"/>
<rect x="1615.49" y="612.09" width="45.06" height="45.36" fill="#FF7000"/>
<rect x="1659.85" y="612.09" width="89.73" height="45.36" fill="#00008F"/>
<rect x="1748.88" y="612.09" width="46.78" height="45.36" fill="#00A8FF"/>
<rect x="1794.96" y="612.09" width="45.07" height="45.36" fill="#00008F"/>
<rect x="1839.33" y="612.09" width="45.47" height="45.36" fill="#00A8FF"/>
<rect x="1166.3" y="656.75" width="44.56" height="44.96" fill="#002CFF"/>
<rect x="1210.16" y="656.75" width="46.78" height="44.96" fill="#0000CD"/>
<rect x="1256.24" y="656.75" width="45.37" height="44.96" fill="#00008F"/>
<rect x="1300.91" y="656.75" width="45.06" height="44.96" fill="#0058FF"/>
<rect x="1345.27" y="656.75" width="45.37" height="44.96" fill="#80FF80"/>
<rect x="1389.94" y="656.75" width="46.47" height="44.96" fill="#00A8FF"/>
<rect x="1435.71" y="656.75" width="45.37" height="44.96" fill="#08FFEE"/>
<rect x="1480.38" y="656.75" width="45.47" height="44.96" fill="#001AFF"/>
<rect x="1525.15" y="656.75" width="44.96" height="44.96" fill="#00A8FF"/>
<rect x="1569.41" y="656.75" width="46.78" height="44.96" fill="#00008F"/>
<rect x="1615.49" y="656.75" width="45.06" height="44.96" fill="#0058FF"/>
<rect x="1659.85" y="656.75" width="44.97" height="44.96" fill="#00008F"/>
<rect x="1704.12" y="656.75" width="45.46" height="44.96" fill="#0058FF"/>
<rect x="1748.88" y="656.75" width="46.78" height="44.96" fill="#FF9000"/>
<rect x="1794.96" y="656.75" width="45.07" height="44.96" fill="#C00000"/>
<rect x="1839.33" y="656.75" width="45.47" height="44.96" fill="#FFF000"/>
<rect x="1166.3" y="701.01" width="44.56" height="47.08" fill="#28FFD7"/>
<rect x="1210.16" y="701.01" width="46.78" height="47.08" fill="#00008F"/>
<rect x="1256.24" y="701.01" width="45.37" height="47.08" fill="#28FFD7"/>
<rect x="1300.91" y="701.01" width="45.06" height="47.08" fill="#0000F5"/>
<rect x="1345.27" y="701.01" width="45.37" height="47.08" fill="#00008F"/>
<rect x="1389.94" y="701.01" width="46.47" height="47.08" fill="#08FFEE"/>
<rect x="1435.71" y="701.01" width="90.14" height="47.08" fill="#00008F"/>
<rect x="1525.15" y="701.01" width="44.96" height="47.08" fill="#0000F5"/>
<rect x="1569.41" y="701.01" width="46.78" height="47.08" fill="#00A8FF"/>
<rect x="1615.49" y="701.01" width="45.06" height="47.08" fill="#001AFF"/>
<rect x="1659.85" y="701.01" width="44.97" height="47.08" fill="#00A8FF"/>
<rect x="1704.12" y="701.01" width="45.46" height="47.08" fill="#FF9000"/>
<rect x="1748.88" y="701.01" width="46.78" height="47.08" fill="#0038FF"/>
<rect x="1794.96" y="701.01" width="45.07" height="47.08" fill="#FFE000"/>
<rect x="1839.33" y="701.01" width="45.47" height="47.08" fill="#C00000"/>
<rect x="1166.3" y="747.39" width="44.56" height="44.96" fill="#00A8FF"/>
<rect x="1210.16" y="747.39" width="46.78" height="44.96" fill="#08FFEE"/>
<rect x="1256.24" y="747.39" width="89.73" height="44.96" fill="#001AFF"/>
<rect x="1345.27" y="747.39" width="45.37" height="44.96" fill="#00C8FF"/>
<rect x="1389.94" y="747.39" width="46.47" height="44.96" fill="#0058FF"/>
<rect x="1435.71" y="747.39" width="45.37" height="44.96" fill="#00F0FF"/>
<rect x="1480.38" y="747.39" width="45.47" height="44.96" fill="#00008F"/>
<rect x="1525.15" y="747.39" width="44.96" height="44.96" fill="#0000AF"/>
<rect x="1569.41" y="747.39" width="46.78" height="44.96" fill="#00008F"/>
<rect x="1615.49" y="747.39" width="45.06" height="44.96" fill="#0058FF"/>
<rect x="1659.85" y="747.39" width="44.97" height="44.96" fill="#00008F"/>
<rect x="1704.12" y="747.39" width="45.46" height="44.96" fill="#C00000"/>
<rect x="1748.88" y="747.39" width="46.78" height="44.96" fill="#FFE000"/>
<rect x="1794.96" y="747.39" width="45.07" height="44.96" fill="#00C8FF"/>
<rect x="1839.33" y="747.39" width="45.47" height="44.96" fill="#FF8000"/>
<rect x="1166.3" y="791.65" width="44.56" height="43.65" fill="#80FF80"/>
<rect x="1210.16" y="791.65" width="46.78" height="43.65" fill="#00008F"/>
<rect x="1256.24" y="791.65" width="45.37" height="43.65" fill="#00FFFF"/>
<rect x="1300.91" y="791.65" width="89.73" height="43.65" fill="#00008F"/>
<rect x="1389.94" y="791.65" width="46.47" height="43.65" fill="#0000F5"/>
<rect x="1435.71" y="791.65" width="45.37" height="43.65" fill="#00008F"/>
<rect x="1480.38" y="791.65" width="45.47" height="43.65" fill="#001AFF"/>
<rect x="1525.15" y="791.65" width="44.96" height="43.65" fill="#0000CD"/>
<rect x="1569.41" y="791.65" width="46.78" height="43.65" fill="#0098FF"/>
<rect x="1615.49" y="791.65" width="45.06" height="43.65" fill="#0000CD"/>
<rect x="1659.85" y="791.65" width="44.97" height="43.65" fill="#00A8FF"/>
<rect x="1704.12" y="791.65" width="45.46" height="43.65" fill="#FFF000"/>
<rect x="1748.88" y="791.65" width="46.78" height="43.65" fill="#C00000"/>
<rect x="1794.96" y="791.65" width="45.07" height="43.65" fill="#FF8000"/>
<rect x="1839.33" y="791.65" width="45.47" height="43.65" fill="#00C8FF"/>
</g>
<path d="M1188.2 119.4v7M1188.2 835.3v-7M1166.3 141.3h7M1884.8 141.3h-7M1233.2 119.4v7M1233.2 835.3v-7M1166.3 186.3h7M1884.8 186.3h-7M1278.6 119.4v7M1278.6 835.3v-7M1166.3 231.4h7M1884.8 231.4h-7M1323.1 119.4v7M1323.1 835.3v-7M1166.3 275.8h7M1884.8 275.8h-7M1367.6 119.4v7M1367.6 835.3v-7M1166.3 320.3h7M1884.8 320.3h-7M1412.8 119.4v7M1412.8 835.3v-7M1166.3 365.4h7M1884.8 365.4h-7M1458.0 119.4v7M1458.0 835.3v-7M1166.3 410.8h7M1884.8 410.8h-7M1502.8 119.4v7M1502.8 835.3v-7M1166.3 455.1h7M1884.8 455.1h-7M1547.3 119.4v7M1547.3 835.3v-7M1166.3 499.4h7M1884.8 499.4h-7M1592.5 119.4v7M1592.5 835.3v-7M1166.3 544.6h7M1884.8 544.6h-7M1637.7 119.4v7M1637.7 835.3v-7M1166.3 589.8h7M1884.8 589.8h-7M1682.0 119.4v7M1682.0 835.3v-7M1166.3 634.4h7M1884.8 634.4h-7M1726.5 119.4v7M1726.5 835.3v-7M1166.3 678.9h7M1884.8 678.9h-7M1771.9 119.4v7M1771.9 835.3v-7M1166.3 724.2h7M1884.8 724.2h-7M1817.1 119.4v7M1817.1 835.3v-7M1166.3 769.5h7M1884.8 769.5h-7M1862.1 119.4v7M1862.1 835.3v-7M1166.3 813.5h7M1884.8 813.5h-7" stroke="#1a1a1a" stroke-width="1.2" fill="none" opacity="0.75"/>
<rect x="1166.3" y="119.4" width="718.5" height="715.9" fill="none" stroke="#1a1a1a" stroke-width="1.4"/>
<g font-family="'Liberation Sans', Arial, sans-serif" fill="#262626" stroke="#262626" stroke-width="0.45">
<text transform="translate(1188.23 101.9) scale(0.95 1)" text-anchor="middle" font-size="31.0">1</text>
<text transform="translate(1233.2 101.9) scale(0.95 1)" text-anchor="middle" font-size="31.0">2</text>
<text transform="translate(1278.58 101.9) scale(0.95 1)" text-anchor="middle" font-size="31.0">3</text>
<text transform="translate(1323.09 101.9) scale(0.95 1)" text-anchor="middle" font-size="31.0">4</text>
<text transform="translate(1367.61 101.9) scale(0.95 1)" text-anchor="middle" font-size="31.0">5</text>
<text transform="translate(1412.83 101.9) scale(0.95 1)" text-anchor="middle" font-size="31.0">6</text>
<text transform="translate(1458.05 101.9) scale(0.95 1)" text-anchor="middle" font-size="31.0">7</text>
<text transform="translate(1502.77 101.9) scale(0.95 1)" text-anchor="middle" font-size="31.0">8</text>
<text transform="translate(1547.28 101.9) scale(0.95 1)" text-anchor="middle" font-size="31.0">9</text>
<text transform="translate(1592.45 101.9) scale(0.95 1)" text-anchor="middle" font-size="31.0">10</text>
<text transform="translate(1635.67 101.9) scale(0.95 1)" text-anchor="middle" font-size="31.0">11</text>
<text transform="translate(1681.98 101.9) scale(0.95 1)" text-anchor="middle" font-size="31.0">12</text>
<text transform="translate(1726.5 101.9) scale(0.95 1)" text-anchor="middle" font-size="31.0">13</text>
<text transform="translate(1771.92 101.9) scale(0.95 1)" text-anchor="middle" font-size="31.0">14</text>
<text transform="translate(1817.14 101.9) scale(0.95 1)" text-anchor="middle" font-size="31.0">15</text>
<text transform="translate(1862.07 101.9) scale(0.95 1)" text-anchor="middle" font-size="31.0">16</text>
<text transform="translate(1155.6 154.33) scale(0.95 1)" text-anchor="end" font-size="31.0">1</text>
<text transform="translate(1155.6 199.3) scale(0.95 1)" text-anchor="end" font-size="31.0">2</text>
<text transform="translate(1155.6 244.44) scale(0.95 1)" text-anchor="end" font-size="31.0">3</text>
<text transform="translate(1155.6 288.84) scale(0.95 1)" text-anchor="end" font-size="31.0">4</text>
<text transform="translate(1155.6 333.28) scale(0.95 1)" text-anchor="end" font-size="31.0">5</text>
<text transform="translate(1155.6 378.39) scale(0.95 1)" text-anchor="end" font-size="31.0">6</text>
<text transform="translate(1155.6 423.76) scale(0.95 1)" text-anchor="end" font-size="31.0">7</text>
<text transform="translate(1155.6 468.12) scale(0.95 1)" text-anchor="end" font-size="31.0">8</text>
<text transform="translate(1155.6 512.38) scale(0.95 1)" text-anchor="end" font-size="31.0">9</text>
<text transform="translate(1155.6 557.6) scale(0.95 1)" text-anchor="end" font-size="31.0">10</text>
<text transform="translate(1155.6 602.81) scale(0.95 1)" text-anchor="end" font-size="31.0">11</text>
<text transform="translate(1155.6 647.42) scale(0.95 1)" text-anchor="end" font-size="31.0">12</text>
<text transform="translate(1155.6 691.88) scale(0.95 1)" text-anchor="end" font-size="31.0">13</text>
<text transform="translate(1155.6 737.2) scale(0.95 1)" text-anchor="end" font-size="31.0">14</text>
<text transform="translate(1155.6 782.52) scale(0.95 1)" text-anchor="end" font-size="31.0">15</text>
<text transform="translate(1155.6 826.47) scale(0.95 1)" text-anchor="end" font-size="31.0">16</text>
</g>
<rect x="1899.9" y="119.5" width="29.2" height="715.9" fill="url(#jet)" stroke="#111" stroke-width="1.2"/>
<path d="M1929.1 238.8h-5M1929.1 358.1h-5M1929.1 477.4h-5M1929.1 596.8h-5M1929.1 716.1h-5" stroke="#1a1a1a" stroke-width="1.2" fill="none"/>
<g font-family="'Liberation Sans', Arial, sans-serif" fill="#262626" stroke="#262626" stroke-width="0.4">
<text transform="translate(1939.0 131.4) scale(0.95 1)" text-anchor="start" font-size="29.0">-1.7</text>
<text transform="translate(1939.0 250.72) scale(0.95 1)" text-anchor="start" font-size="29.0">-6.7</text>
<text transform="translate(1939.0 370.03) scale(0.95 1)" text-anchor="start" font-size="29.0">-11.7</text>
<text transform="translate(1939.0 489.35) scale(0.95 1)" text-anchor="start" font-size="29.0">-16.7</text>
<text transform="translate(1939.0 608.67) scale(0.95 1)" text-anchor="start" font-size="29.0">-21.7</text>
<text transform="translate(1939.0 727.98) scale(0.95 1)" text-anchor="start" font-size="29.0">-26.7</text>
<text transform="translate(1939.0 847.3) scale(0.95 1)" text-anchor="start" font-size="29.0">-31.7</text>
</g>
<g font-family="'Liberation Sans', Arial, sans-serif" fill="#000">
<text y="56.0" font-size="32.0" font-weight="bold" stroke="#000" stroke-width="1.0" stroke-linejoin="round"><tspan x="168.36" textLength="153.5" lengthAdjust="spacingAndGlyphs">Simulated</tspan><tspan> </tspan><tspan x="331.86" textLength="128.34" lengthAdjust="spacingAndGlyphs">S-matrix</tspan><tspan> </tspan><tspan x="471.06" textLength="29.62" lengthAdjust="spacingAndGlyphs">of</tspan><tspan> </tspan><tspan x="511.07" textLength="49.49" lengthAdjust="spacingAndGlyphs">the</tspan><tspan> </tspan><tspan x="570.42" textLength="32.85" lengthAdjust="spacingAndGlyphs">Tx</tspan><tspan> </tspan><tspan x="613.87" textLength="77.21" lengthAdjust="spacingAndGlyphs">array</tspan><tspan> </tspan><tspan x="702.55" textLength="61.99" lengthAdjust="spacingAndGlyphs">[dB]</tspan></text>
<text y="62.0" font-size="32.0" font-weight="bold" stroke="#000" stroke-width="1.0" stroke-linejoin="round"><tspan x="1228.0" textLength="155.42" lengthAdjust="spacingAndGlyphs">Measured</tspan><tspan> </tspan><tspan x="1393.36" textLength="127.84" lengthAdjust="spacingAndGlyphs">S-matrix</tspan><tspan> </tspan><tspan x="1531.54" textLength="30.13" lengthAdjust="spacingAndGlyphs">of</tspan><tspan> </tspan><tspan x="1572.57" textLength="48.98" lengthAdjust="spacingAndGlyphs">the</tspan><tspan> </tspan><tspan x="1631.92" textLength="32.35" lengthAdjust="spacingAndGlyphs">Tx</tspan><tspan> </tspan><tspan x="1675.27" textLength="77.31" lengthAdjust="spacingAndGlyphs">array</tspan><tspan> </tspan><tspan x="1763.54" textLength="62.52" lengthAdjust="spacingAndGlyphs">[dB]</tspan></text>
<text><tspan x="9.93" y="50.09" font-size="55.64" textLength="23.85" lengthAdjust="spacingAndGlyphs" stroke="#000" stroke-width="1.3" stroke-linejoin="round">a</tspan><tspan x="43.2" y="47.81" font-size="55.21" textLength="12.01" lengthAdjust="spacingAndGlyphs" stroke="#000" stroke-width="2.4" stroke-linejoin="round">)</tspan></text>
<text><tspan x="1053.19" y="57.31" font-size="58.65" textLength="30.71" lengthAdjust="spacingAndGlyphs" stroke="#000" stroke-width="0.6" stroke-linejoin="round">b</tspan><tspan x="1089.7" y="54.88" font-size="55.32" textLength="12.13" lengthAdjust="spacingAndGlyphs" stroke="#000" stroke-width="2.4" stroke-linejoin="round">)</tspan></text>
</g>
</svg>
</body></html>
